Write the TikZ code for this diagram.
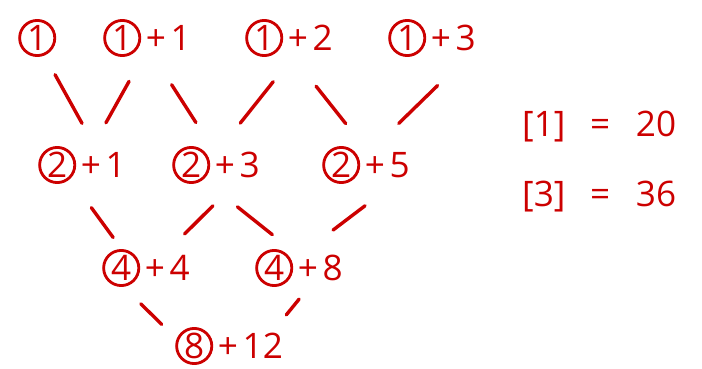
\documentclass[tikz,border=0pt]{standalone}
\usepackage{fontspec}
\setmainfont{Open Sans}
\definecolor{ink}{RGB}{204,0,0}
\newcommand{\cnum}[1]{\tikz[baseline=(c.base)]\node[circle,draw=ink,line width=2.4pt,minimum size=30pt,inner sep=0pt](c){#1};}
\newcommand{\cexpr}[2]{\cnum{#1}\hspace{4pt}+\hspace{4pt}#2}

\begin{document}
\begin{tikzpicture}[x=0.03cm,y=-0.03cm,
    expr/.style={anchor=west,inner sep=0pt,minimum height=1.02cm,text=ink,
      font=\fontsize{30}{34}\selectfont},
    link/.style={draw=ink,line width=2.9pt,line cap=round}]
  \useasboundingbox (0,0) rectangle (702,369);
  % top row
  \node[expr] (r1a) at (18,38) {\cnum{1}};
  \node[expr] (r1b) at (103,38) {\cexpr{1}{1}};
  \node[expr] (r1c) at (245,38) {\cexpr{1}{2}};
  \node[expr] (r1d) at (388,38) {\cexpr{1}{3}};
  % second row
  \node[expr] (r2a) at (38,165) {\cexpr{2}{1}};
  \node[expr] (r2b) at (172,165) {\cexpr{2}{3}};
  \node[expr] (r2c) at (322,165) {\cexpr{2}{5}};
  % third row
  \node[expr] (r3a) at (102,268) {\cexpr{4}{4}};
  \node[expr] (r3b) at (255,268) {\cexpr{4}{8}};
  % bottom
  \node[expr] (r4) at (175,346) {\cexpr{8}{12}};
  % results
  \node[expr] (eqa) at (522,127) {[1]\hspace{21pt}=\hspace{22pt}20};
  \node[expr] (eqb) at (522,197) {[3]\hspace{21pt}=\hspace{22pt}36};

  \draw[link,shorten <=0.6cm,shorten >=0.77cm] (r1a.-67) -- (r2a.57);
  \draw[link,shorten <=0.83cm,shorten >=0.79cm] (r1b.-103) -- (r2a.60);
  \draw[link,shorten <=0.98cm,shorten >=0.83cm] (r1b.-70) -- (r2b.105);
  \draw[link,shorten <=0.94cm,shorten >=0.87cm] (r1c.-79) -- (r2b.72);
  \draw[link,shorten <=1.11cm,shorten >=0.85cm] (r1c.-78) -- (r2c.98);
  \draw[link,shorten <=1.22cm,shorten >=0.96cm] (r1d.-29) -- (r2c.63);

  \draw[link,shorten <=0.87cm,shorten >=0.42cm] (r2a.-112) -- (r3a.142);
  \draw[link,shorten <=0.92cm,shorten >=0.63cm] (r2b.-46) -- (r3a.39);
  \draw[link,shorten <=1.09cm,shorten >=0.68cm] (r2b.-110) -- (r3b.115);
  \draw[link,shorten <=1.07cm,shorten >=0.93cm] (r2c.-35) -- (r3b.64);

  \draw[link,shorten <=0.71cm,shorten >=0.56cm] (r3a.-139) -- (r4.171);
  \draw[link,shorten <=0.46cm,shorten >=0.46cm] (r3b.-63) -- (r4.22);
\end{tikzpicture}
\end{document}
